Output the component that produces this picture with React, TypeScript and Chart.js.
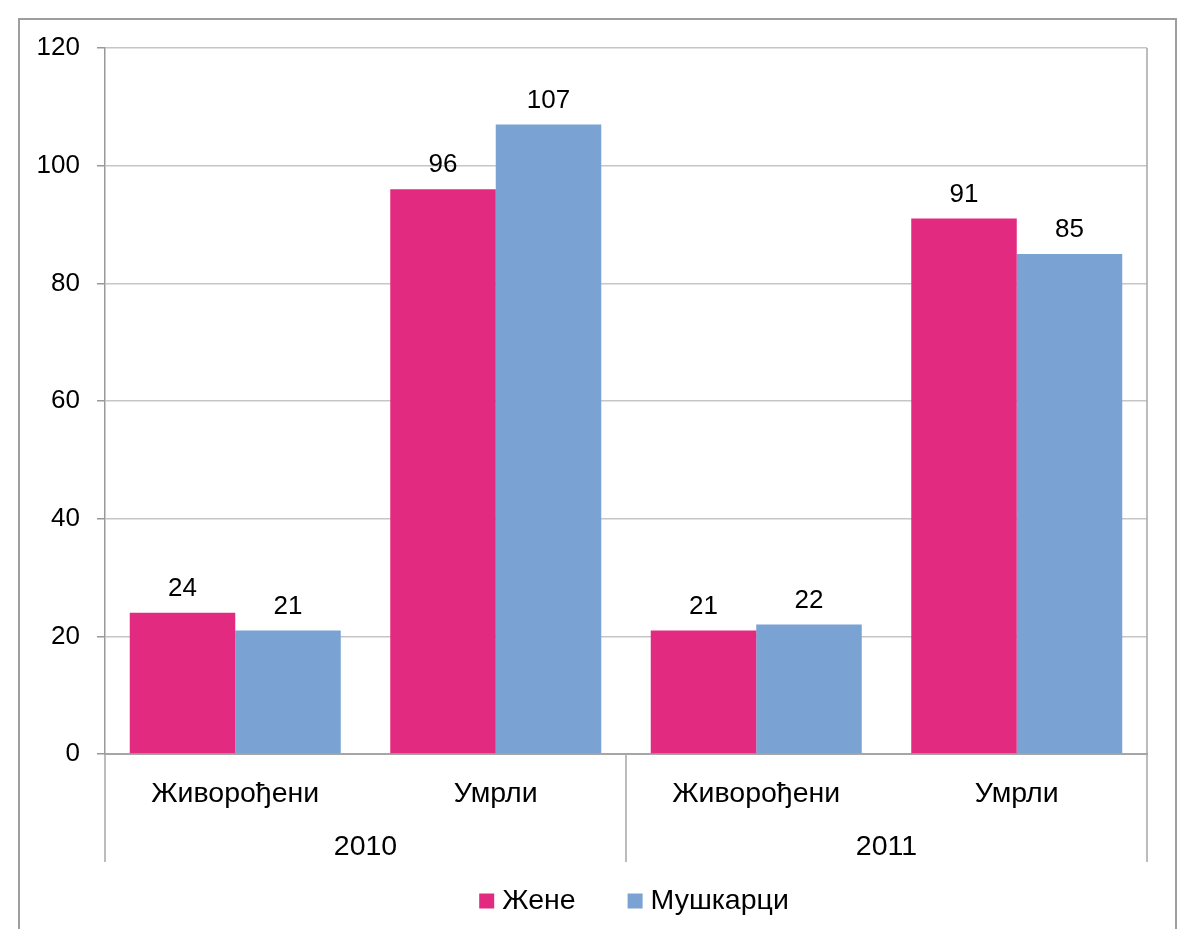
import React, { useEffect, useRef } from "react";
import { Chart, registerables } from "chart.js";

Chart.register(...registerables);

const categories = ["Живорођени", "Умрли", "Живорођени", "Умрли"];
const years = ["2010", "2011"];
const seriesNames = ["Жене", "Мушкарци"];
const zene = [24, 96, 21, 91];
const muskarci = [21, 107, 22, 85];
const yMin = 0;
const yMax = 120;
const yStep = 20;

const PINK = "#E32A81";
const BLUE = "#7AA2D3";
const FONT = "'Liberation Sans', Arial, sans-serif";
const BIG = 28.5;
const SMALL = 26;

const overlayPlugin = {
  id: "overlay",
  afterDraw(chart: any) {
    const { ctx, chartArea } = chart;
    const x = chart.scales.x;
    const bottom = chartArea.bottom;
    ctx.save();
    // right border of plot area + separators
    ctx.strokeStyle = "#a6a6a6";
    ctx.lineWidth = 1.5;
    ctx.beginPath();
    ctx.moveTo(chartArea.right, chartArea.top);
    ctx.lineTo(chartArea.right, bottom + 108);
    ctx.stroke();
    ctx.beginPath();
    ctx.moveTo(chartArea.left, bottom);
    ctx.lineTo(chartArea.left, bottom + 108);
    const mid = (x.getPixelForValue(1) + x.getPixelForValue(2)) / 2;
    ctx.moveTo(mid, bottom);
    ctx.lineTo(mid, bottom + 108);
    ctx.stroke();

    ctx.fillStyle = "#000";
    ctx.textAlign = "center";
    ctx.textBaseline = "middle";

    // data labels
    ctx.font = `${SMALL}px ${FONT}`;
    chart.data.datasets.forEach((ds: any, di: number) => {
      const meta = chart.getDatasetMeta(di);
      meta.data.forEach((el: any, i: number) => {
        ctx.fillText(String(ds.data[i]), el.x, el.y - 24);
      });
    });

    // year labels
    ctx.font = `${BIG}px ${FONT}`;
    years.forEach((yr, i) => {
      const cx = (x.getPixelForValue(i * 2) + x.getPixelForValue(i * 2 + 1)) / 2;
      ctx.fillText(yr, cx, bottom + 93);
    });

    // legend
    const colors = [PINK, BLUE];
    const box = 15;
    const gapBox = 8;
    const gapItem = 52;
    const widths = seriesNames.map((n) => ctx.measureText(n).width);
    const total = widths.reduce((a, w) => a + box + gapBox + w, 0) + gapItem;
    let lx = (chartArea.left + chartArea.right) / 2 + 8 - total / 2;
    const ly = bottom + 147;
    ctx.textAlign = "left";
    seriesNames.forEach((n, i) => {
      ctx.fillStyle = colors[i];
      ctx.fillRect(lx, ly - box / 2, box, box);
      ctx.fillStyle = "#000";
      ctx.fillText(n, lx + box + gapBox, ly);
      lx += box + gapBox + widths[i] + gapItem;
    });
    ctx.restore();
  },
};

export default function App() {
  const ref = useRef<HTMLCanvasElement>(null);
  useEffect(() => {
    document.body.style.margin = "0";
    const chart = new Chart(ref.current!, {
      type: "bar",
      data: {
        labels: categories,
        datasets: [
          { label: seriesNames[0], data: zene, backgroundColor: PINK },
          { label: seriesNames[1], data: muskarci, backgroundColor: BLUE },
        ],
      },
      options: {
        animation: false,
        responsive: false,
        maintainAspectRatio: false,
        layout: { padding: { top: 48, right: 44, bottom: 0, left: 0 } },
        datasets: { bar: { categoryPercentage: 0.81, barPercentage: 1 } },
        plugins: { legend: { display: false }, tooltip: { enabled: false } },
        scales: {
          x: {
            afterFit: (s: any) => {
              s.height = 175;
            },
            grid: { display: false, drawTicks: false },
            border: { display: true, color: "#a6a6a6", width: 2 },
            ticks: {
              color: "#000",
              font: { family: FONT, size: BIG },
              padding: 23,
              maxRotation: 0,
              autoSkip: false,
            },
          },
          y: {
            min: yMin,
            max: yMax,
            afterFit: (s: any) => {
              s.width = 105;
            },
            grid: { color: "#c6c6c6", lineWidth: 1.5, tickColor: "#999", tickLength: 8 },
            border: { display: true, color: "#999", width: 1.5 },
            ticks: {
              stepSize: yStep,
              color: "#000",
              font: { family: FONT, size: SMALL },
              padding: 17,
            },
          },
        },
      },
      plugins: [overlayPlugin],
    });
    return () => chart.destroy();
  }, []);

  return (
    <div style={{ position: "relative", width: 1191, height: 929, overflow: "hidden", background: "#fff" }}>
      <canvas ref={ref} width={1191} height={929} style={{ position: "absolute", left: 0, top: 0 }} />
      <div
        style={{
          position: "absolute",
          left: 18,
          top: 18,
          width: 1159,
          height: 1000,
          border: "2px solid #9e9e9e",
          boxSizing: "border-box",
          pointerEvents: "none",
        }}
      />
    </div>
  );
}
